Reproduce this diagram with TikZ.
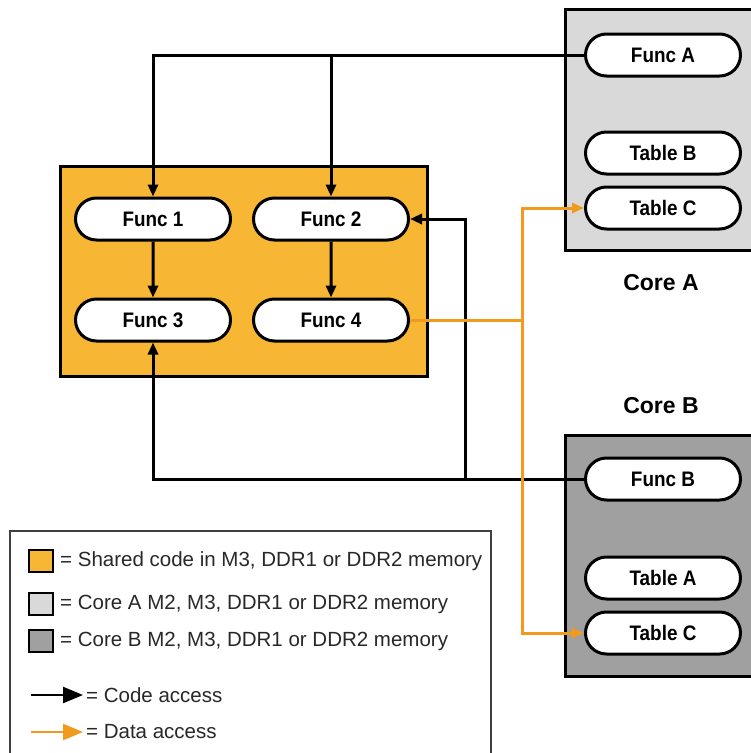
\documentclass[tikz,border=0pt]{standalone}
\usepackage{fontspec}
\setmainfont{Liberation Sans}
\newfontfamily\nodefont[FakeStretch=0.9]{Liberation Sans}
\usetikzlibrary{arrows.meta,shapes.misc}

\definecolor{sharedfill}{RGB}{247,182,52}
\definecolor{coreafill}{RGB}{217,217,217}
\definecolor{corebfill}{RGB}{160,160,160}
\definecolor{dataline}{RGB}{242,154,30}
\definecolor{legendtext}{RGB}{40,40,40}

\tikzset{
  func/.style={rounded rectangle, draw=black, line width=3pt, fill=white,
    minimum width=155pt, minimum height=42pt, inner sep=0pt,
    font=\nodefont\bfseries\fontsize{21}{24}\selectfont},
  memblock/.style={draw=black, line width=3pt},
  corelabel/.style={font=\bfseries\fontsize{23}{27}\selectfont},
  code/.style={draw=black, line width=3pt, -{Triangle[length=12pt,width=10pt]}},
  data/.style={draw=dataline, line width=3pt, -{Triangle[length=12pt,width=10pt]}},
  plaindata/.style={draw=dataline, line width=3pt},
  swatch/.style={draw=black, line width=2.4pt, minimum width=24pt, minimum height=22pt, inner sep=0pt},
  legendentry/.style={anchor=west, inner sep=0pt, text=legendtext,
    font=\fontsize{20.5}{24}\selectfont},
}

\begin{document}
\begin{tikzpicture}[x=1pt,y=-1pt]
  \useasboundingbox[fill=white] (0,0) rectangle (751,753);

  % memory regions
  \fill[sharedfill] (60,166) rectangle (427,376);
  \draw[memblock] (60,166) rectangle (427,376);
  \draw[memblock, fill=coreafill] (565,9) rectangle (756,250);
  \draw[memblock, fill=corebfill] (565,435) rectangle (756,676);

  % functions and tables
  \node[func] (f1) at (153,219) {Func 1};
  \node[func] (f2) at (331,219) {Func 2};
  \node[func] (f3) at (153,320) {Func 3};
  \node[func] (f4) at (331,320) {Func 4};
  \node[func] (fa) at (663,55) {Func A};
  \node[func] (tb) at (663,153) {Table B};
  \node[func] (tca) at (663,208) {Table C};
  \node[func] (fb) at (663,479) {Func B};
  \node[func] (ta) at (663,578) {Table A};
  \node[func] (tcb) at (663,633) {Table C};

  \node[corelabel] (la) at (661,283) {Core A};
  \node[corelabel] (lb) at (661,406) {Core B};

  % code access
  \draw[code] (fa.west) -| (f1.north);
  \draw[code] (f2.north |- fa.west) -- (f2.north);
  \draw[code] (f1) -- (f3);
  \draw[code] (f2) -- (f4);
  \draw[code] (fb.west) -| (f3.south);
  \coordinate (jb) at (465,479);
  \draw[code] (jb) |- (f2.east);

  % data access
  \coordinate (jo) at (522,320);
  \draw[plaindata] (f4.east) -- (jo);
  \draw[data] (jo) |- (tca.west);
  \draw[data] (jo) |- (tcb.west);

  % legend
  \draw[draw=black!75, line width=1.6pt] (10,531) rectangle (491,757);
  \node[swatch, fill=sharedfill] (s1) at (41,561) {};
  \node[swatch, fill=coreafill] (s2) at (41,604) {};
  \node[swatch, fill=corebfill] (s3) at (41,641) {};
  \node[legendentry] (t1) at (60,561) {= Shared code in M3, DDR1 or DDR2 memory};
  \node[legendentry] (t2) at (60,604) {= Core A M2, M3, DDR1 or DDR2 memory};
  \node[legendentry] (t3) at (60,641) {= Core B M2, M3, DDR1 or DDR2 memory};
  \coordinate (ca0) at (31,695);
  \coordinate (ca1) at (83,695);
  \draw[draw=black, line width=2.4pt, -{Triangle[length=20pt,width=16pt]}] (ca0) -- (ca1);
  \node[legendentry] (t4) at (86,695) {= Code access};
  \coordinate (da0) at (31,732);
  \coordinate (da1) at (83,732);
  \draw[draw=dataline, line width=2.4pt, -{Triangle[length=20pt,width=16pt]}] (da0) -- (da1);
  \node[legendentry] (t5) at (86,732) {= Data access};
\end{tikzpicture}
\end{document}
